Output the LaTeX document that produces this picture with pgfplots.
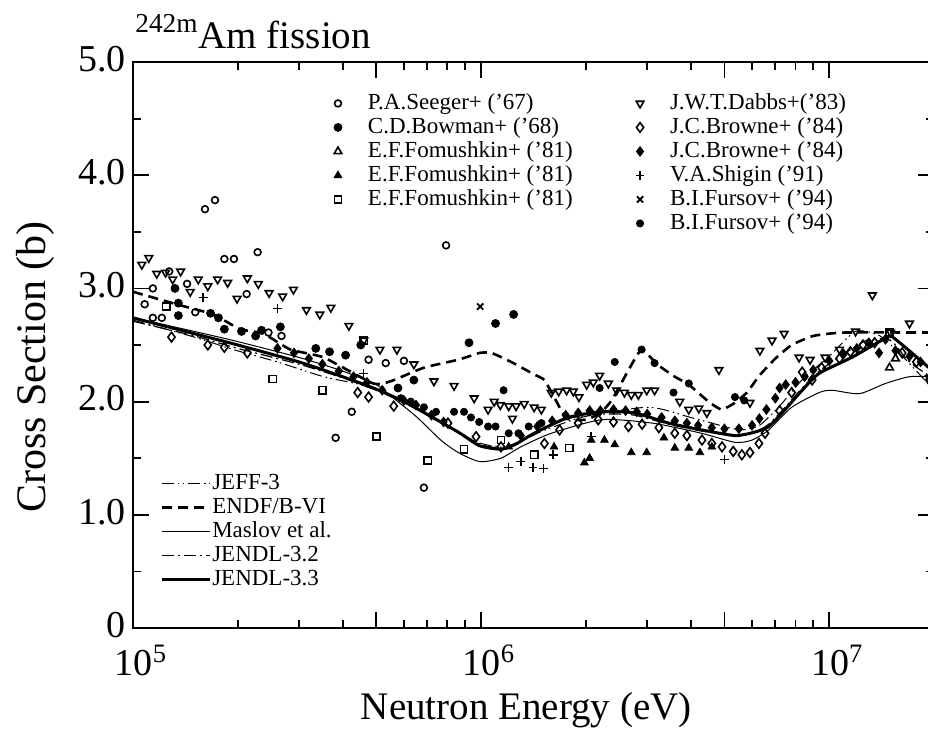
\documentclass[border=0pt]{standalone}
\usepackage{fontspec}
\setmainfont{Liberation Serif}
\usepackage{pgfplots}
\pgfplotsset{compat=1.18}
\begin{document}
\begin{tikzpicture}
% ---------------- main axis with evaluated curves ----------------
\begin{axis}[width=400.5pt,height=283pt,scale only axis,xmode=log,xmin=1e5,xmax=2e7,ymin=0,ymax=5,
  axis line style={line width=1.3pt},
  tick align=inside,
  major tick length=8pt, minor tick length=4pt,
  tick style={black, line width=0.9pt},
  xtick={1e5,1e6,1e7}, xticklabels={10\textsuperscript{5},10\textsuperscript{6},10\textsuperscript{7}},
  minor xtick={2e5,3e5,4e5,6e5,7e5,8e5,9e5,2e6,3e6,4e6,6e6,7e6,8e6,9e6,2e7},
  extra x ticks={5e5,5e6}, extra x tick labels={},
  ytick={0,1,2,3,4,5}, yticklabels={0,1.0,2.0,3.0,4.0,5.0},
  minor ytick={0.5,1.5,2.5,3.5,4.5},
  tick label style={font=\fontsize{19}{19}\selectfont},
  xticklabel style={yshift=-5pt, xshift=4pt},
  yticklabel style={yshift=1.5pt},
  xlabel={Neutron Energy (eV)},
  xlabel style={font=\fontsize{19.5}{20}\selectfont, at={(axis description cs:0.491,-0.1625)}, anchor=base},
  ylabel={Cross Section (b)},
  ylabel style={font=\fontsize{21}{21}\selectfont, at={(axis description cs:-0.122,0.461)}, anchor=center},
  title={\textsuperscript{242m}Am fission},
  title style={font=\fontsize{19.5}{20}\selectfont, at={(axis description cs:0.0025,1.0247)}, anchor=base west, inner sep=0pt, yshift=-6pt},
  legend style={at={(axis description cs:0.034,0.277)}, anchor=north west, draw=none, fill=none,
      inner sep=0pt, outer sep=0pt, row sep=0pt, font=\fontsize{11.5}{11.5}\selectfont,
      nodes={inner sep=0.5pt,text height=8.5pt,text depth=2.5pt}},
  legend cell align=left,
  legend image code/.code={\draw[#1] (0pt,0pt) -- (24pt,0pt);},
]
% JEFF-3
\addplot[black, line width=0.5pt, smooth, tension=0.4, dash pattern=on 6pt off 2pt on 0.8pt off 1.6pt on 0.8pt off 2pt] coordinates {
(1e5,2.72)(1.5e5,2.57)(1.94e5,2.46)(2.6e5,2.35)(3.53e5,2.22)(4.5e5,2.15)(5.5e5,2.05)(7e5,1.88)(8.6e5,1.73)(1e6,1.63)(1.2e6,1.60)(1.5e6,1.74)(2e6,1.87)(3.03e6,1.95)(4e6,1.86)(5e6,1.78)(5.6e6,1.75)(6.3e6,1.79)(7.2e6,1.96)(8.4e6,2.20)(1.0e7,2.40)(1.19e7,2.62)(1.4e7,2.58)(1.66e7,2.37)(2e7,2.10)};
\addlegendentry{JEFF-3}
% ENDF/B-VI
\addplot[black, line width=1.3pt, smooth, tension=0.3, dash pattern=on 5pt off 3pt] coordinates {
(1e5,2.97)(1.37e5,2.85)(1.7e5,2.77)(2.03e5,2.64)(2.37e5,2.60)(2.83e5,2.46)(3.53e5,2.39)(4.9e5,2.16)(5.5e5,2.18)(6.85e5,2.30)(8.6e5,2.37)(9.9e5,2.43)(1.07e6,2.43)(1.22e6,2.35)(1.42e6,2.24)(1.52e6,2.19)(1.64e6,2.01)(1.76e6,1.85)(2.0e6,1.84)(2.2e6,1.90)(2.37e6,2.01)(2.62e6,2.25)(2.89e6,2.46)(3.2e6,2.33)(3.6e6,2.22)(3.95e6,2.15)(4.5e6,2.00)(4.9e6,1.93)(5.3e6,1.98)(5.8e6,2.08)(6.3e6,2.23)(7.0e6,2.38)(7.8e6,2.50)(9.0e6,2.58)(1.1e7,2.61)(2.0e7,2.61)};
\addlegendentry{ENDF/B-VI}
% Maslov
\addplot[black, line width=0.5pt, smooth, tension=0.4] coordinates {
(1e5,2.74)(1.5e5,2.62)(2e5,2.53)(3e5,2.39)(4e5,2.27)(5e5,2.15)(5.5e5,2.05)(6.5e5,1.87)(7.66e5,1.66)(8.6e5,1.55)(9.9e5,1.47)(1.14e6,1.50)(1.3e6,1.60)(1.59e6,1.72)(2.22e6,1.84)(3.1e6,1.81)(4.3e6,1.72)(5.36e6,1.64)(6.0e6,1.66)(6.7e6,1.75)(7.8e6,1.95)(9.36e6,2.08)(1.02e7,2.10)(1.22e7,2.07)(1.45e7,2.16)(1.7e7,2.22)(2e7,2.22)};
\addlegendentry{Maslov et al.}
% JENDL-3.2
\addplot[black, line width=0.6pt, smooth, tension=0.4, dash pattern=on 6pt off 2pt on 1pt off 2pt] coordinates {
(1e5,2.71)(1.5e5,2.58)(2e5,2.47)(3e5,2.33)(4e5,2.21)(5e5,2.10)(6.1e5,1.98)(6.8e5,1.90)(8.6e5,1.73)(1e6,1.62)(1.14e6,1.59)(1.25e6,1.63)(1.42e6,1.72)(1.78e6,1.85)(2.22e6,1.89)(2.76e6,1.88)(3.46e6,1.80)(4.3e6,1.74)(5.36e6,1.70)(6.1e6,1.73)(6.7e6,1.80)(7.47e6,1.95)(8.36e6,2.12)(9.36e6,2.27)(1.1e7,2.42)(1.3e7,2.55)(1.5e7,2.54)(1.7e7,2.35)(2e7,2.20)};
\addlegendentry{JENDL-3.2}
% JENDL-3.3
\addplot[black, line width=1.5pt, smooth, tension=0.4] coordinates {
(1e5,2.74)(1.5e5,2.60)(2e5,2.50)(3e5,2.35)(4e5,2.22)(5e5,2.11)(6.1e5,1.99)(6.8e5,1.91)(8.6e5,1.73)(9.9e5,1.61)(1.14e6,1.58)(1.25e6,1.62)(1.42e6,1.72)(1.78e6,1.86)(2.22e6,1.91)(2.76e6,1.90)(3.46e6,1.81)(4.3e6,1.75)(5.36e6,1.70)(6.1e6,1.73)(6.7e6,1.78)(7.47e6,1.93)(8.36e6,2.10)(9.36e6,2.25)(1.16e7,2.39)(1.45e7,2.56)(1.52e7,2.57)(1.82e7,2.37)(2e7,2.26)};
\addlegendentry{JENDL-3.3}
\end{axis}
% ---------------- left column of experimental data ----------------
\begin{axis}[width=400.5pt,height=283pt,scale only axis,xmode=log,xmin=1e5,xmax=2e7,ymin=0,ymax=5,
  hide axis,
  legend style={at={(axis description cs:0.2434,0.948)}, anchor=north west,
      draw=none,fill=none,inner sep=0pt,outer sep=0pt,row sep=0pt,
      font=\fontsize{11.5}{11.5}\selectfont,
      nodes={inner sep=0.5pt,text height=8.5pt,text depth=2.5pt}},
  legend cell align=left,
  legend image code/.code={\path[draw=none,fill=none] (-5pt,0pt) -- (14.5pt,0pt); \draw[#1] plot coordinates {(0pt,0pt)};},
]
\addplot[only marks, black, mark=o, mark size=1.7pt, mark options={line width=0.8pt}] coordinates {
(1.61e5,3.70)(1.72e5,3.78)(1.83e5,3.26)(1.95e5,3.26)(2.28e5,3.32)(1.14e5,3.00)(1.08e5,2.86)(1.27e5,3.15)(1.43e5,3.04)(2.12e5,2.95)(1.51e5,2.79)(2.45e5,2.61)(2.67e5,2.58)(1.14e5,2.74)(1.21e5,2.74)(7.93e5,3.38)(4.75e5,2.37)(5.32e5,2.34)(6.0e5,2.36)(4.25e5,1.91)(3.82e5,1.68)(6.85e5,1.24)};
\addlegendentry{P.A.Seeger+ ('67)}
\addplot[only marks, black, mark=*, mark size=2pt] coordinates {
(1.32e5,3.00)(1.35e5,2.87)(1.35e5,2.76)(1.76e5,2.74)(1.67e5,2.78)(1.83e5,2.64)(2.05e5,2.62)(2.34e5,2.63)(2.65e5,2.66)(2.25e5,2.58)(3.35e5,2.47)(3.67e5,2.44)(4.08e5,2.41)(4.51e5,2.50)(9.23e5,2.52)(1.10e6,2.69)(1.24e6,2.77)(6.41e5,2.19)(5.77e5,2.12)};
\addlegendentry{C.D.Bowman+ ('68)}
\addplot[only marks, black, mark=triangle, mark size=2.2pt, mark options={line width=0.8pt}] coordinates {
(1.49e7,2.30)(1.55e7,2.38)};
\addlegendentry{E.F.Fomushkin+ ('81)}
\addplot[only marks, black, mark=triangle*, mark size=2.2pt] coordinates {
(2.26e6,1.66)(2.42e6,1.62)(2.70e6,1.55)(2.99e6,1.55)(3.35e6,1.68)(3.60e6,1.59)(3.95e6,1.59)(4.25e6,1.55)(4.60e6,1.60)(1.98e6,1.46)(2.05e6,1.50)(2.07e6,1.66)(1.62e6,1.60)(1.20e6,1.60)};
\addlegendentry{E.F.Fomushkin+ ('81)}
\addplot[only marks, black, mark=square, mark size=1.8pt, mark options={line width=0.8pt}] coordinates {
(1.245e5,2.84)(2.52e5,2.20)(3.50e5,2.10)(5.01e5,1.69)(7.03e5,1.48)(8.93e5,1.58)(4.60e5,2.54)(1.42e6,1.53)(1.79e6,1.59)(1.49e7,2.61)(1.14e6,1.66)};
\addlegendentry{E.F.Fomushkin+ ('81)}
\end{axis}
% ---------------- right column of experimental data ----------------
\begin{axis}[width=400.5pt,height=283pt,scale only axis,xmode=log,xmin=1e5,xmax=2e7,ymin=0,ymax=5,
  hide axis,
  legend style={at={(axis description cs:0.6205,0.948)}, anchor=north west,
      draw=none,fill=none,inner sep=0pt,outer sep=0pt,row sep=0pt,
      font=\fontsize{11.5}{11.5}\selectfont,
      nodes={inner sep=0.5pt,text height=8.5pt,text depth=2.5pt}},
  legend cell align=left,
  legend image code/.code={\path[draw=none,fill=none] (-5pt,0pt) -- (14.5pt,0pt); \draw[#1] plot coordinates {(0pt,0pt)};},
]
\addplot[only marks, black, mark=triangle, mark size=2.2pt, mark options={line width=0.8pt, rotate=180}] coordinates {
(1.06e5,3.21)(1.11e5,3.27)(1.17e5,3.13)(1.24e5,3.14)(1.30e5,3.08)(1.37e5,3.15)(1.46e5,2.97)(1.54e5,3.08)(1.64e5,3.02)(1.75e5,3.08)(1.87e5,3.05)(1.99e5,2.91)(2.13e5,3.09)(2.29e5,3.04)(2.46e5,2.96)(2.69e5,2.93)(2.89e5,2.99)(3.15e5,2.81)(3.44e5,2.77)(3.70e5,2.83)(4.17e5,2.67)(4.60e5,2.54)(5.12e5,2.46)(5.73e5,2.46)(6.41e5,2.33)(7.32e5,2.18)(8.36e5,2.14)(9.55e5,2.03)(1.047e6,1.93)(1.09e6,2.00)(1.135e6,1.97)(1.20e6,1.96)(1.26e6,1.96)(1.23e6,1.85)(1.33e6,1.98)(1.42e6,1.95)(1.49e6,1.93)(1.59e6,2.08)(1.67e6,2.09)(1.76e6,2.10)(1.84e6,2.09)(1.91e6,2.04)(2.01e6,2.15)(2.10e6,2.17)(2.19e6,2.23)(2.32e6,2.16)(2.45e6,2.10)(2.58e6,2.08)(2.70e6,2.06)(2.83e6,2.06)(2.99e6,2.10)(3.15e6,2.10)(3.72e6,2.00)(3.95e6,1.93)(4.22e6,1.94)(4.82e6,2.28)(4.45e6,1.90)(5.92e6,1.99)(6.32e6,2.45)(6.85e6,2.54)(7.42e6,2.60)(8.19e6,2.39)(8.81e6,2.37)(9.73e6,2.39)(1.07e7,2.46)(1.19e7,2.62)(1.33e7,2.94)(1.50e7,2.61)(1.70e7,2.69)(1.94e7,2.21)};
\addlegendentry{J.W.T.Dabbs+('83)}
\addplot[only marks, black, mark=diamond, mark size=2.4pt, mark options={line width=0.8pt}] coordinates {
(1.29e5,2.57)(1.64e5,2.50)(1.83e5,2.48)(2.13e5,2.43)(4.42e5,2.08)(4.75e5,2.04)(5.61e5,1.96)(8.03e5,1.81)(9.67e5,1.69)(1.14e6,1.60)(1.52e6,1.63)(1.68e6,1.75)(1.90e6,1.81)(2.17e6,1.84)(2.4e6,1.82)(2.65e6,1.78)(2.9e6,1.80)(3.24e6,1.77)(3.60e6,1.72)(3.9e6,1.70)(4.31e6,1.66)(4.6e6,1.63)(4.92e6,1.60)(5.3e6,1.56)(5.61e6,1.53)(5.92e6,1.55)(6.28e6,1.63)(6.54e6,1.72)(7.2e6,1.92)(7.8e6,2.08)(8.36e6,2.26)(8.93e6,2.19)(9.5e6,2.30)(1.07e7,2.38)(1.15e7,2.44)(1.25e7,2.50)(1.35e7,2.52)(1.62e7,2.43)(1.78e7,2.35)(1.94e7,2.19)};
\addlegendentry{J.C.Browne+ ('84)}
\addplot[only marks, black, mark=diamond*, mark size=2.4pt] coordinates {
(2.6e5,2.47)(2.9e5,2.43)(3.2e5,2.38)(3.5e5,2.33)(3.9e5,2.27)(4.3e5,2.22)(4.7e5,2.17)(5.2e5,2.10)(6.0e5,2.01)(6.5e5,1.97)(7.2e5,1.88)(7.8e5,1.82)(1.3e6,1.70)(1.45e6,1.78)(1.6e6,1.83)(1.75e6,1.88)(1.9e6,1.90)(2.05e6,1.92)(2.2e6,1.92)(2.4e6,1.93)(2.6e6,1.92)(2.8e6,1.91)(3.0e6,1.89)(3.3e6,1.86)(3.6e6,1.83)(3.9e6,1.81)(4.2e6,1.79)(4.6e6,1.77)(5.0e6,1.76)(5.5e6,1.76)(6.0e6,1.79)(6.3e6,1.85)(6.6e6,1.93)(7.0e6,2.03)(7.2e6,2.12)(7.5e6,2.15)(8.0e6,2.17)(8.5e6,2.22)(9.0e6,2.28)(1.0e7,2.36)(1.1e7,2.42)(1.2e7,2.47)(1.3e7,2.52)(1.39e7,2.43)(1.45e7,2.55)(1.55e7,2.45)(1.7e7,2.40)(1.83e7,2.35)};
\addlegendentry{J.C.Browne+ ('84)}
\addplot[only marks, black, mark=+, mark size=2.2pt, mark options={line width=0.7pt}] coordinates {
(1.59e5,2.92)(2.60e5,2.82)(4.60e5,2.25)(1.20e6,1.42)(1.30e6,1.47)(1.41e6,1.42)(1.51e6,1.41)(1.61e6,1.53)(2.07e6,1.69)(5.01e6,1.49)};
\addlegendentry{V.A.Shigin ('91)}
\addplot[only marks, black, mark=x, mark size=2.2pt, mark options={line width=0.9pt}] coordinates {
(9.94e5,2.84)};
\addlegendentry{B.I.Fursov+ ('94)}
\addplot[only marks, black, mark=*, mark size=1.8pt] coordinates {
(2.42e6,2.35)(2.19e6,2.12)(3.57e6,2.08)(2.89e6,2.46)(3.15e6,2.34)(3.95e6,2.16)(1.16e6,2.10)(1.28e6,1.72)(1.37e6,1.78)(1.49e6,1.81)(5.88e5,2.03)(6.28e5,2.00)(6.85e5,1.95)(7.42e5,1.91)(8.36e5,1.91)(8.93e5,1.91)(9.35e5,1.86)(9.87e5,1.82)(1.047e6,1.78)(1.10e6,1.78)(1.20e6,1.72)(5.36e6,2.04)(5.7e6,2.01)};
\addlegendentry{B.I.Fursov+ ('94)}
\end{axis}
\pgfresetboundingbox
\path (-66.5pt,-58.5pt) rectangle (397.5pt,314pt);
\end{tikzpicture}
\end{document}
